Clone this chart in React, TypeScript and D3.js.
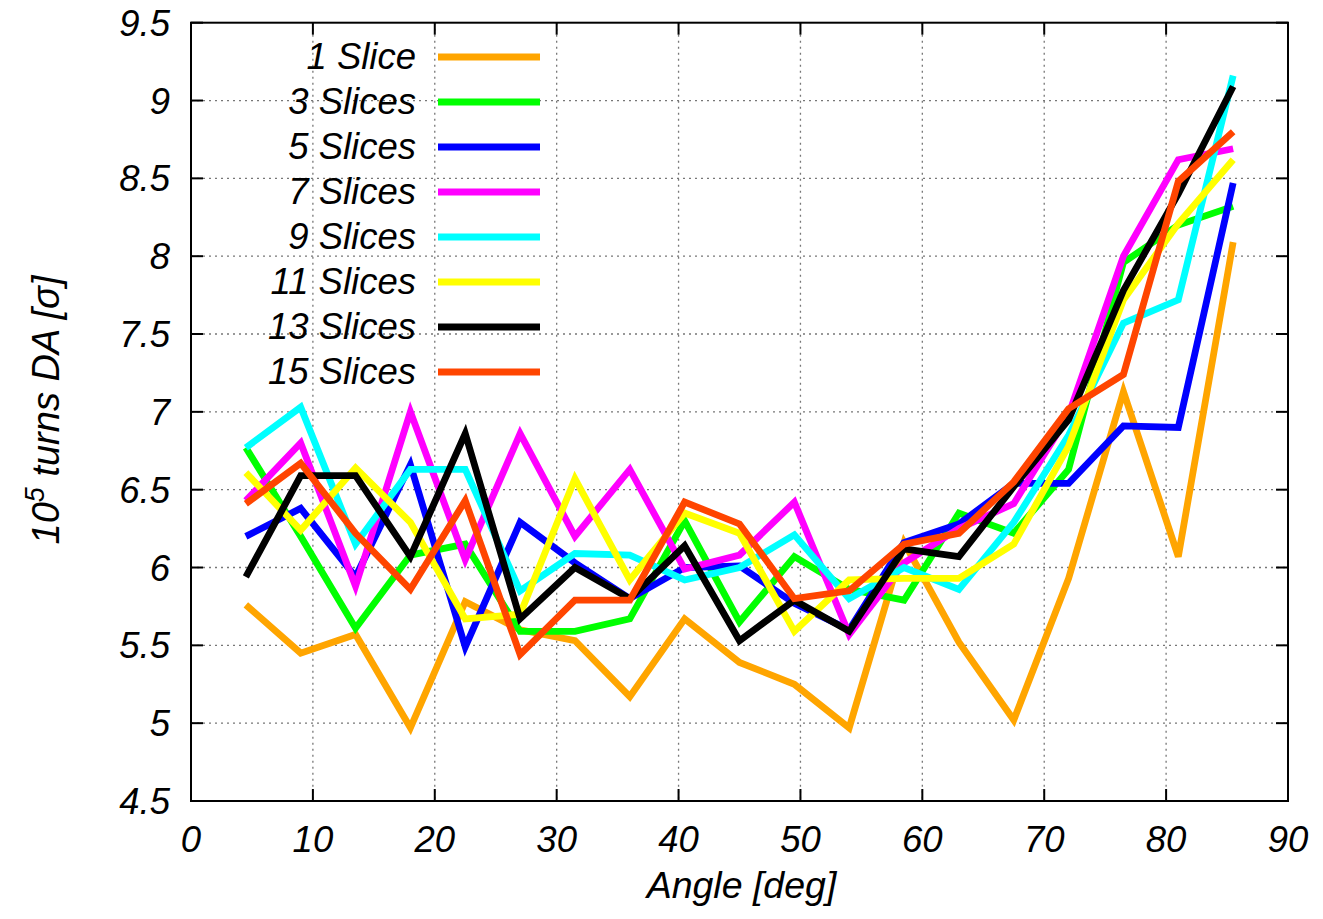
import React from "react";
import * as d3 from "d3";

const angles = [4.5, 9, 13.5, 18, 22.5, 27, 31.5, 36, 40.5, 45, 49.5, 54, 58.5, 63, 67.5, 72, 76.5, 81, 85.5];

const slice1 = [5.76, 5.45, 5.57, 4.97, 5.78, 5.6, 5.53, 5.17, 5.67, 5.39, 5.25, 4.97, 6.16, 5.52, 5.02, 5.93, 7.13, 6.07, 8.09];
const slice3 = [6.77, 6.2, 5.61, 6.08, 6.15, 5.59, 5.59, 5.67, 6.3, 5.65, 6.07, 5.86, 5.79, 6.35, 6.22, 6.63, 7.96, 8.2, 8.32];
const slice5 = [6.2, 6.38, 5.94, 6.66, 5.49, 6.29, 6.03, 5.8, 6.0, 6.01, 5.77, 5.6, 6.16, 6.28, 6.54, 6.54, 6.91, 6.9, 8.47];
const slice7 = [6.43, 6.8, 5.88, 7.0, 6.05, 6.86, 6.2, 6.63, 5.99, 6.08, 6.42, 5.57, 6.03, 6.25, 6.41, 6.98, 8.0, 8.62, 8.69];
const slice9 = [6.77, 7.03, 6.15, 6.63, 6.63, 5.85, 6.09, 6.08, 5.92, 6.0, 6.21, 5.8, 6.0, 5.86, 6.29, 6.85, 7.57, 7.72, 9.16];
const slice11 = [6.61, 6.24, 6.64, 6.29, 5.67, 5.7, 6.57, 5.92, 6.35, 6.22, 5.59, 5.92, 5.93, 5.93, 6.15, 6.78, 7.72, 8.21, 8.62];
const slice13 = [5.94, 6.59, 6.59, 6.07, 6.86, 5.67, 6.0, 5.8, 6.14, 5.53, 5.79, 5.59, 6.12, 6.07, 6.52, 6.95, 7.78, 8.4, 9.09];
const slice15 = [6.41, 6.67, 6.22, 5.86, 6.43, 5.44, 5.79, 5.79, 6.42, 6.28, 5.8, 5.85, 6.15, 6.22, 6.55, 7.02, 7.24, 8.48, 8.8];

const seriesNames = ["1 Slice", "3 Slices", "5 Slices", "7 Slices", "9 Slices", "11 Slices", "13 Slices", "15 Slices"];
const seriesValues = [slice1, slice3, slice5, slice7, slice9, slice11, slice13, slice15];
const seriesColors = ["#ffa500", "#00ff00", "#0000ff", "#ff00ff", "#00ffff", "#ffff00", "#000000", "#ff4500"];

const xTicks = [0, 10, 20, 30, 40, 50, 60, 70, 80, 90];
const yTicks = [4.5, 5, 5.5, 6, 6.5, 7, 7.5, 8, 8.5, 9, 9.5];

const W = 1323;
const H = 919;
const M = { left: 191, right: 1288, top: 22.7, bottom: 801 };
const FONT = "'Liberation Sans', Arial, Helvetica, sans-serif";

export default function App() {
  const x = d3.scaleLinear().domain([0, 90]).range([M.left, M.right]);
  const y = d3.scaleLinear().domain([4.5, 9.5]).range([M.bottom, M.top]);
  const line = d3
    .line<number>()
    .x((_, i) => x(angles[i]))
    .y((d) => y(d));

  const tickLen = 12;
  const fs = 36.5;

  return (
    <svg
      width={W}
      height={H}
      style={{ position: "absolute", left: 0, top: 0, background: "#fff" }}
      fontFamily={FONT}
    >
      <rect x={0} y={0} width={W} height={H} fill="#fff" />
      {xTicks.slice(1, -1).map((t) => (
        <line key={"gx" + t} x1={x(t)} x2={x(t)} y1={M.top} y2={M.bottom} stroke="#777" strokeWidth={1.3} strokeDasharray="2,4" />
      ))}
      {yTicks.slice(1, -1).map((t) => (
        <line key={"gy" + t} x1={M.left} x2={M.right} y1={y(t)} y2={y(t)} stroke="#777" strokeWidth={1.3} strokeDasharray="2,4" />
      ))}
      {xTicks.map((t) => (
        <g key={"tx" + t}>
          <line x1={x(t)} x2={x(t)} y1={M.bottom} y2={M.bottom - tickLen} stroke="#000" strokeWidth={2} />
          <line x1={x(t)} x2={x(t)} y1={M.top} y2={M.top + tickLen} stroke="#000" strokeWidth={2} />
          <text x={x(t)} y={M.bottom + 51} fontSize={fs} fontStyle="italic" textAnchor="middle">
            {t}
          </text>
        </g>
      ))}
      {yTicks.map((t) => (
        <g key={"ty" + t}>
          <line x1={M.left} x2={M.left + tickLen} y1={y(t)} y2={y(t)} stroke="#000" strokeWidth={2} />
          <line x1={M.right} x2={M.right - tickLen} y1={y(t)} y2={y(t)} stroke="#000" strokeWidth={2} />
          <text x={170} y={y(t) + 13} fontSize={fs} fontStyle="italic" textAnchor="end">
            {t}
          </text>
        </g>
      ))}
      {seriesValues.map((vals, i) => (
        <path
          key={"s" + i}
          d={line(vals) || ""}
          fill="none"
          stroke={seriesColors[i]}
          strokeWidth={6.8}
          strokeLinejoin="miter"
          strokeMiterlimit={4}
        />
      ))}
      <rect x={M.left} y={M.top} width={M.right - M.left} height={M.bottom - M.top} fill="none" stroke="#000" strokeWidth={2} />
      {seriesNames.map((n, i) => {
        const ly = 57 + i * 45;
        return (
          <g key={"l" + i}>
            <text x={416} y={ly + 12} fontSize={fs} fontStyle="italic" textAnchor="end">
              {n}
            </text>
            <line x1={438} x2={540} y1={ly} y2={ly} stroke={seriesColors[i]} strokeWidth={7} />
          </g>
        );
      })}
      <text x={(M.left + M.right) / 2 + 2} y={898} fontSize={37.5} fontStyle="italic" textAnchor="middle">
        Angle [deg]
      </text>
      <text transform="translate(59,410) rotate(-90)" fontSize={38} fontStyle="italic" textAnchor="middle">
        10<tspan dy={-15} fontSize={27}>5</tspan>
        <tspan dy={15}> turns DA [σ]</tspan>
      </text>
    </svg>
  );
}
